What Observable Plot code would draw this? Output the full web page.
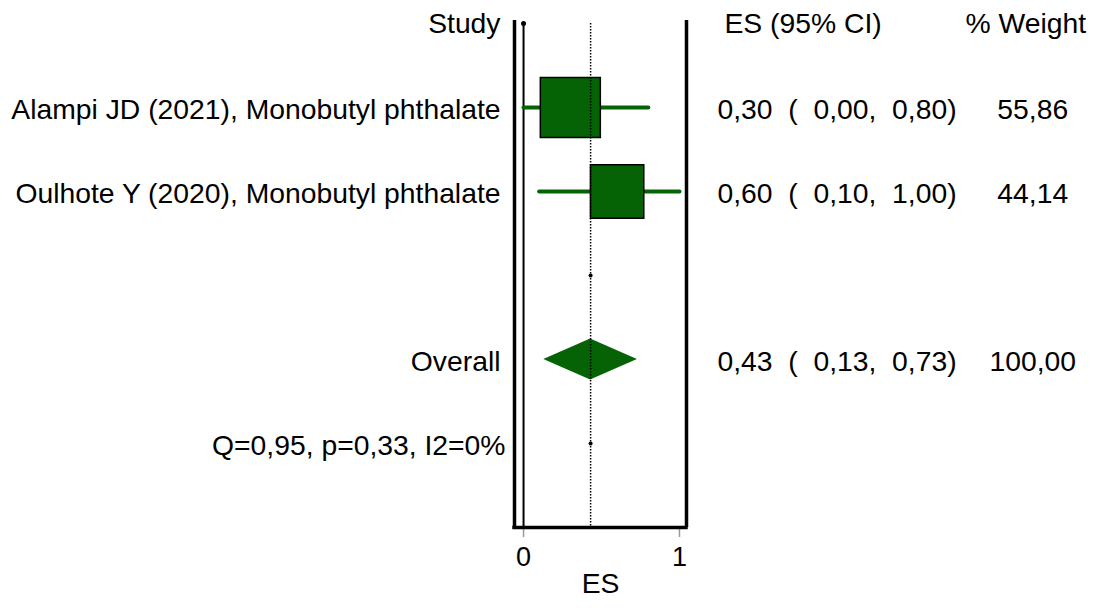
<!DOCTYPE html>
<html>
<head>
<meta charset="utf-8">
<script src="https://cdn.jsdelivr.net/npm/d3@7"></script>
<script src="https://cdn.jsdelivr.net/npm/@observablehq/plot@0.6"></script>
<style>
  html, body { margin: 0; padding: 0; background: #fff; }
</style>
</head>
<body>
<div id="chart"></div>
<script>
// Study-level effect sizes (ES) with 95% confidence limits and weights
const studies = ["Alampi JD (2021), Monobutyl phthalate", "Oulhote Y (2020), Monobutyl phthalate"];
const es = [0.30, 0.60];
const lower = [0.00, 0.10];
const upper = [0.80, 1.00];
const weights = [55.86, 44.14];

// Pooled estimate and heterogeneity summary
const overallEs = 0.43;
const overallLower = 0.13;
const overallUpper = 0.73;
const overallWeight = 100.00;
const heterogeneity = "Q=0,95, p=0,33, I2=0%";

// Row layout: 0 = header, 1..2 = studies, 3 = spacer, 4 = overall, 5 = heterogeneity
const studyRows = [1, 2];
const spacerRow = 3;
const overallRow = 4;
const hetRow = 5;
const lastRow = 6;

const xTicks = [0, 1];
const xDomain = [-0.058, 1.045];

const green = "#056205";
const dec = (v) => d3.format(".2f")(v).replace(".", ",");
const ciText = (e, l, u) => `${dec(e)}  (  ${dec(l)},  ${dec(u)})`;
const wText = (w) => dec(w).padStart(6, " ");

const rows = studies.map((name, i) => ({
  name, es: es[i], lo: lower[i], hi: upper[i], w: weights[i], row: studyRows[i]
}));

const diamondHalf = 0.245;
const diamond = [
  {x: overallLower, y1: overallRow, y2: overallRow},
  {x: overallEs, y1: overallRow - diamondHalf, y2: overallRow + diamondHalf},
  {x: overallUpper, y1: overallRow, y2: overallRow}
];

const chart = Plot.plot({
  width: 1097,
  height: 608,
  marginLeft: 514,
  marginRight: 411,
  marginTop: 20,
  marginBottom: 81,
  style: {
    fontFamily: "Arial, 'Liberation Sans', sans-serif",
    fontSize: "28.3px",
    whiteSpace: "pre",
    background: "#fff",
    color: "#000"
  },
  x: {domain: xDomain},
  y: {domain: [-0.035, lastRow], reverse: true, axis: null},
  r: {type: "sqrt", domain: [0, 100], range: [0, 45.3]},
  marks: [
    // x axis ticks and labels
    Plot.axisX({ticks: xTicks, tickSize: 10, stroke: "#9a9a9a", strokeWidth: 1.5, text: null, label: null}),
    Plot.text(xTicks, {x: d => d, frameAnchor: "bottom", dy: 38, fontSize: 27, text: d3.format("d")}),
    Plot.text(["ES"], {frameAnchor: "bottom", dy: 65}),

    // plot frame: left, right and bottom borders
    Plot.ruleX([xDomain[0], xDomain[1]], {y1: -0.035, y2: lastRow, strokeWidth: 3.5}),
    Plot.ruleY([lastRow], {x1: xDomain[0], x2: xDomain[1], strokeWidth: 3.5, strokeLinecap: "square"}),

    // line of no effect
    Plot.ruleX([0], {y1: 0, y2: lastRow, strokeWidth: 2}),
    Plot.dot([0], {x: d => d, y: 0, r: 2.5, fill: "#000", stroke: null}),

    // confidence intervals and weighted boxes
    Plot.link(rows, {x1: "lo", x2: "hi", y1: "row", y2: "row", stroke: green, strokeWidth: 4, strokeLinecap: "round"}),
    Plot.dot(rows, {x: "es", y: "row", r: "w", symbol: "square", fill: green, stroke: "#000", strokeWidth: 1.5}),

    // pooled estimate diamond
    Plot.areaY(diamond, {x: "x", y1: "y1", y2: "y2", fill: green, curve: "linear"}),

    // pooled estimate reference line
    Plot.ruleX([overallEs], {y1: 0, y2: lastRow, stroke: "#000", strokeWidth: 1.5, strokeDasharray: "1.5,1.5"}),
    Plot.dot([spacerRow, hetRow], {x: overallEs, y: d => d, r: 2, fill: "#000", stroke: null}),

    // left column: study labels
    Plot.text(["Study"], {frameAnchor: "left", y: 0, textAnchor: "end", dx: -14}),
    Plot.text(rows, {frameAnchor: "left", y: "row", text: "name", textAnchor: "end", dx: -14, dy: 2}),
    Plot.text(["Overall"], {frameAnchor: "left", y: overallRow, textAnchor: "end", dx: -14, dy: 2}),
    Plot.text([heterogeneity], {frameAnchor: "left", y: hetRow, textAnchor: "end", dx: -9, dy: 2}),

    // right columns: ES (95% CI) and % weight
    Plot.text(["ES (95% CI)"], {frameAnchor: "right", y: 0, textAnchor: "start", dx: 38}),
    Plot.text(["% Weight"], {frameAnchor: "right", y: 0, textAnchor: "start", dx: 279}),
    Plot.text(rows, {frameAnchor: "right", y: "row", text: d => ciText(d.es, d.lo, d.hi), textAnchor: "start", dx: 31, dy: 2}),
    Plot.text(rows, {frameAnchor: "right", y: "row", text: d => wText(d.w), textAnchor: "start", dx: 303, dy: 2}),
    Plot.text([overallRow], {frameAnchor: "right", y: d => d, text: () => ciText(overallEs, overallLower, overallUpper), textAnchor: "start", dx: 31, dy: 2}),
    Plot.text([overallRow], {frameAnchor: "right", y: d => d, text: () => wText(overallWeight), textAnchor: "start", dx: 303, dy: 2})
  ]
});

document.getElementById("chart").append(chart);
</script>
</body>
</html>
